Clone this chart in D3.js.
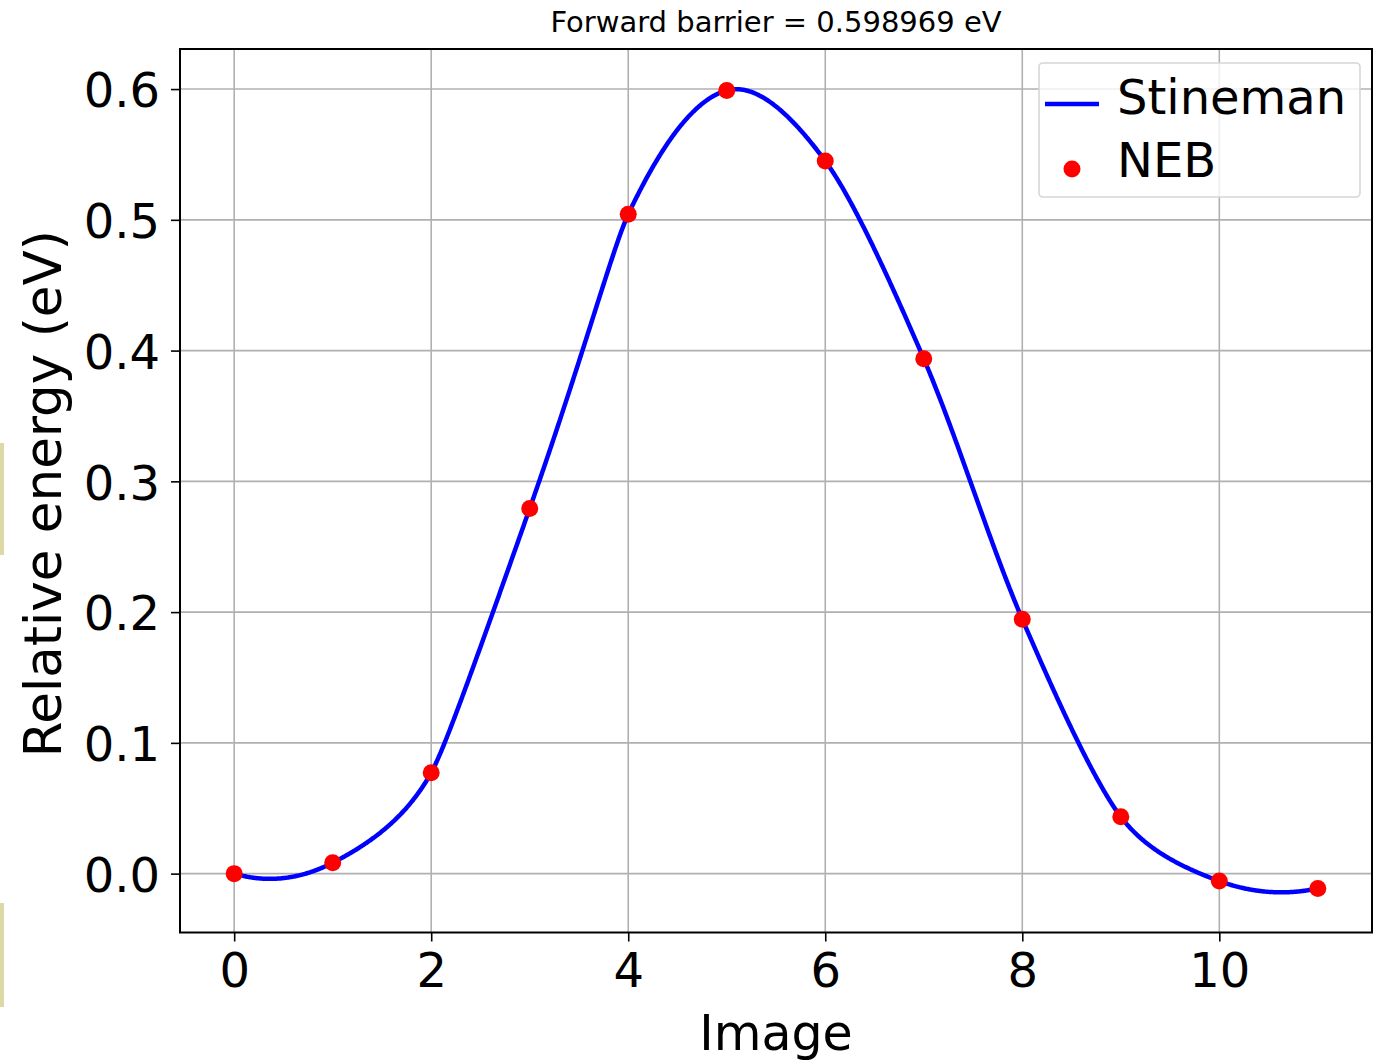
<!DOCTYPE html>
<html>
<head>
<meta charset="utf-8">
<script src="https://cdn.jsdelivr.net/npm/d3@7"></script>
<style>
body { margin: 0; background: #fff; }
text { font-family: "DejaVu Sans", sans-serif; fill: #000; }
</style>
</head>
<body>
<script>
// NEB images and their relative energies (eV)
var images = [0, 1, 2, 3, 4, 5, 6, 7, 8, 9, 10, 11];
var energies = [0.0, 0.0083, 0.0772, 0.2793, 0.5042, 0.598969, 0.5450, 0.3937, 0.1946, 0.0435, -0.0057, -0.0113];
var xTicks = [0, 2, 4, 6, 8, 10];
var yTicks = [0.0, 0.1, 0.2, 0.3, 0.4, 0.5, 0.6];
var title = 'Forward barrier = 0.598969 eV';
var legendLabels = ['Stineman', 'NEB'];

var width = 1382, height = 1061;
var margin = {left: 180, right: 10, top: 49, bottom: 128.5};

// slopes at each point, same rule as matplotlib's mlab.slopes
function slopes(x, y) {
	var n = x.length, yp = new Array(n);
	for (var i = 1; i < n - 1; i++) {
		var dx0 = x[i] - x[i - 1], dx1 = x[i + 1] - x[i];
		var s0 = (y[i] - y[i - 1]) / dx0, s1 = (y[i + 1] - y[i]) / dx1;
		yp[i] = (s0 * dx1 + s1 * dx0) / (dx0 + dx1);
	}
	yp[0] = 2 * (y[1] - y[0]) / (x[1] - x[0]) - yp[1];
	yp[n - 1] = 2 * (y[n - 1] - y[n - 2]) / (x[n - 1] - x[n - 2]) - yp[n - 2];
	return yp;
}

// Stineman interpolation at xi
function stineman(xi, x, y, yp) {
	var k = 0;
	while (k < x.length - 2 && xi > x[k + 1]) k++;
	var s = (y[k + 1] - y[k]) / (x[k + 1] - x[k]);
	var yo = y[k] + s * (xi - x[k]);
	var dy1 = (yp[k] - s) * (xi - x[k]);
	var dy2 = (yp[k + 1] - s) * (xi - x[k + 1]);
	var p = dy1 * dy2;
	if (p > 0) return yo + p / (dy1 + dy2);
	if (p < 0) return yo + p * (2 * xi - x[k] - x[k + 1]) / ((dy1 - dy2) * (x[k + 1] - x[k]));
	return yo;
}

var yp = slopes(images, energies);
var fitX = d3.range(0, 11.0001, 0.01);
var fit = fitX.map(function(xi) {
	return [xi, stineman(xi, images, energies, yp)];
});

var svg = d3.select('body')
	.append('svg')
	.attr('width', width)
	.attr('height', height);

// stray marks on the left edge of the screenshot
svg.selectAll('rect.edge')
	.data([[443, 112], [903, 104]])
	.enter()
	.append('rect')
	.attr('class', 'edge')
	.attr('x', 0)
	.attr('y', function(d) { return d[0]; })
	.attr('width', 4)
	.attr('height', function(d) { return d[1]; })
	.attr('fill', '#dcd9a6');

var xExt = d3.extent(images);
var xPad = (xExt[1] - xExt[0]) * 0.05;
var xScale = d3.scaleLinear()
	.domain([xExt[0] - xPad, xExt[1] + xPad])
	.range([margin.left, width - margin.right]);

var yExt = d3.extent(fit.map(function(d) { return d[1]; }).concat(energies));
var yPad = (yExt[1] - yExt[0]) * 0.05;
var yScale = d3.scaleLinear()
	.domain([yExt[0] - yPad, yExt[1] + yPad])
	.range([height - margin.bottom, margin.top]);

var x0 = margin.left, x1 = width - margin.right;
var y0 = height - margin.bottom, y1 = margin.top;

// grid
svg.append('g')
	.selectAll('line')
	.data(xTicks)
	.enter()
	.append('line')
	.attr('x1', function(d) { return xScale(d); })
	.attr('x2', function(d) { return xScale(d); })
	.attr('y1', y0)
	.attr('y2', y1)
	.attr('stroke', '#b0b0b0')
	.attr('stroke-width', 1.6);

svg.append('g')
	.selectAll('line')
	.data(yTicks)
	.enter()
	.append('line')
	.attr('x1', x0)
	.attr('x2', x1)
	.attr('y1', function(d) { return yScale(d); })
	.attr('y2', function(d) { return yScale(d); })
	.attr('stroke', '#b0b0b0')
	.attr('stroke-width', 1.6);

// fitted curve
var line = d3.line()
	.x(function(d) { return xScale(d[0]); })
	.y(function(d) { return yScale(d[1]); });

svg.append('path')
	.datum(fit)
	.attr('d', line)
	.attr('fill', 'none')
	.attr('stroke', '#0000ff')
	.attr('stroke-width', 4.5);

// NEB points
svg.append('g')
	.selectAll('circle')
	.data(images)
	.enter()
	.append('circle')
	.attr('cx', function(d) { return xScale(d); })
	.attr('cy', function(d, i) { return yScale(energies[i]); })
	.attr('r', 8.5)
	.attr('fill', '#ff0000');

// axes
var xAxis = svg.append('g')
	.attr('transform', 'translate(0,' + y0 + ')')
	.call(d3.axisBottom(xScale).tickValues(xTicks).tickFormat(d3.format('d')).tickSize(9));

var yAxis = svg.append('g')
	.attr('transform', 'translate(' + x0 + ',0)')
	.call(d3.axisLeft(yScale).tickValues(yTicks).tickFormat(d3.format('.1f')).tickSize(9));

[xAxis, yAxis].forEach(function(a) {
	a.select('.domain').remove();
	a.selectAll('.tick line').attr('stroke', '#000').attr('stroke-width', 1.6);
	a.selectAll('.tick text')
		.attr('font-family', '"DejaVu Sans", sans-serif')
		.attr('font-size', 48)
		.attr('fill', '#000');
});

xAxis.selectAll('.tick text').attr('y', 54).attr('dy', null);
yAxis.selectAll('.tick text').attr('x', -20).attr('dy', '0.37em');

// frame
svg.append('rect')
	.attr('x', x0)
	.attr('y', y1)
	.attr('width', x1 - x0)
	.attr('height', y0 - y1)
	.attr('fill', 'none')
	.attr('stroke', '#000')
	.attr('stroke-width', 2);

// labels
svg.append('text')
	.attr('x', (x0 + x1) / 2)
	.attr('y', 32)
	.attr('text-anchor', 'middle')
	.attr('font-size', 29)
	.text(title);

svg.append('text')
	.attr('x', (x0 + x1) / 2)
	.attr('y', 1050)
	.attr('text-anchor', 'middle')
	.attr('font-size', 49)
	.text('Image');

svg.append('text')
	.attr('transform', 'translate(61,' + ((y0 + y1) / 2 + 3) + ') rotate(-90)')
	.attr('text-anchor', 'middle')
	.attr('font-size', 51.5)
	.text('Relative energy (eV)');

// legend
var legend = svg.append('g');

legend.append('rect')
	.attr('x', 1039)
	.attr('y', 63)
	.attr('width', 321)
	.attr('height', 134)
	.attr('rx', 4)
	.attr('fill', '#fff')
	.attr('fill-opacity', 0.8)
	.attr('stroke', '#d6d6d6')
	.attr('stroke-width', 1.6);

legend.append('line')
	.attr('x1', 1045)
	.attr('x2', 1099)
	.attr('y1', 104)
	.attr('y2', 104)
	.attr('stroke', '#0000ff')
	.attr('stroke-width', 4.5);

legend.append('circle')
	.attr('cx', 1072)
	.attr('cy', 169)
	.attr('r', 8.5)
	.attr('fill', '#ff0000');

legend.selectAll('text')
	.data(legendLabels)
	.enter()
	.append('text')
	.attr('x', 1117)
	.attr('y', function(d, i) { return 114 + i * 63; })
	.attr('font-size', 48)
	.text(function(d) { return d; });
</script>
</body>
</html>
